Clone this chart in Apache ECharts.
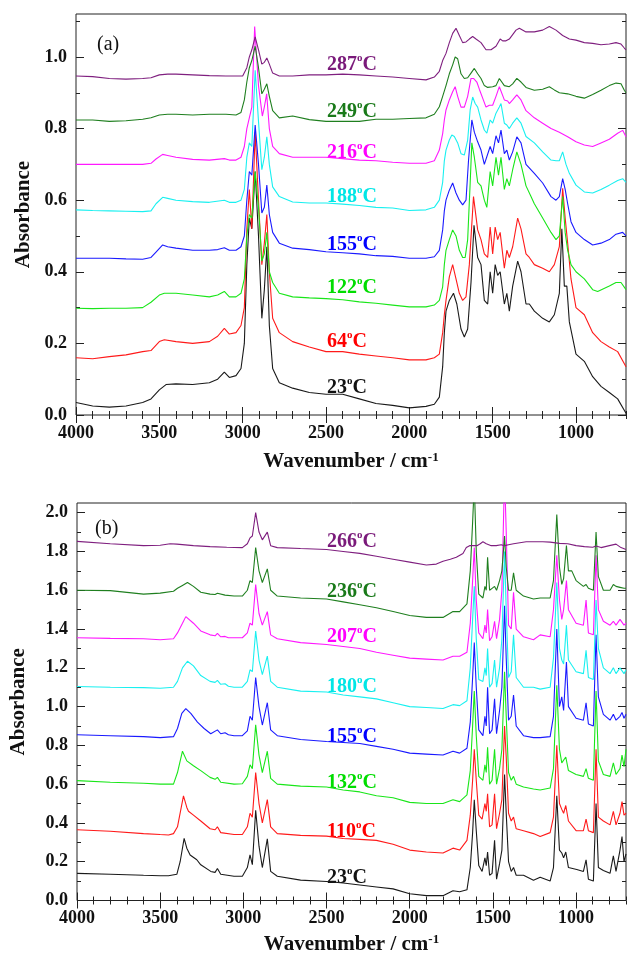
<!DOCTYPE html>
<html>
<head>
<meta charset="utf-8">
<script src="https://cdn.jsdelivr.net/npm/echarts@6/dist/echarts.min.js"></script>
<style>
  html, body { margin: 0; padding: 0; background: #fff; }
  #main { width: 627px; height: 956px; }
</style>
</head>
<body>
<div id="main"></div>
<script>
// ---- tick values ----
const xTicks = [1000, 1500, 2000, 2500, 3000, 3500, 4000];
const yTicksA = [0, 0.2, 0.4, 0.6, 0.8, 1.0];
const yTicksB = [0, 0.2, 0.4, 0.6, 0.8, 1.0, 1.2, 1.4, 1.6, 1.8, 2.0];

// ---- panel (a): [wavenumber, absorbance] ----
const a23 = [[4000,0.035],[3900,0.025],[3800,0.022],[3700,0.025],[3600,0.035],[3550,0.045],[3500,0.07],[3460,0.085],[3400,0.087],[3300,0.085],[3200,0.09],[3150,0.10],[3110,0.12],[3080,0.105],[3040,0.11],[3010,0.13],[2990,0.2],[2975,0.42],[2960,0.55],[2945,0.52],[2925,0.68],[2905,0.5],[2885,0.27],[2870,0.35],[2855,0.47],[2840,0.25],[2820,0.13],[2780,0.09],[2700,0.075],[2600,0.063],[2500,0.058],[2400,0.058],[2300,0.045],[2200,0.032],[2100,0.027],[2000,0.02],[1900,0.024],[1850,0.03],[1820,0.05],[1800,0.135],[1790,0.23],[1780,0.29],[1760,0.32],[1735,0.34],[1715,0.31],[1690,0.24],[1670,0.218],[1650,0.24],[1630,0.37],[1612,0.53],[1590,0.44],[1570,0.42],[1550,0.32],[1530,0.31],[1515,0.40],[1500,0.34],[1485,0.42],[1470,0.39],[1455,0.40],[1430,0.31],[1415,0.34],[1400,0.29],[1380,0.36],[1350,0.43],[1330,0.40],[1300,0.31],[1280,0.31],[1250,0.29],[1200,0.27],[1160,0.26],[1130,0.28],[1100,0.34],[1085,0.52],[1070,0.36],[1055,0.36],[1040,0.26],[1000,0.17],[950,0.15],[900,0.107],[850,0.08],[800,0.063],[750,0.045],[700,0.005]];
const a64 = [[4000,0.16],[3900,0.157],[3800,0.163],[3700,0.168],[3600,0.177],[3550,0.18],[3500,0.205],[3470,0.21],[3400,0.205],[3300,0.20],[3200,0.205],[3150,0.22],[3110,0.242],[3080,0.226],[3040,0.23],[3010,0.25],[2990,0.3],[2975,0.52],[2960,0.63],[2945,0.52],[2925,0.79],[2905,0.6],[2885,0.42],[2870,0.48],[2855,0.56],[2840,0.40],[2820,0.27],[2780,0.23],[2700,0.205],[2600,0.19],[2500,0.177],[2400,0.177],[2300,0.17],[2200,0.165],[2100,0.16],[2000,0.154],[1900,0.154],[1850,0.16],[1820,0.17],[1800,0.23],[1790,0.28],[1780,0.32],[1760,0.386],[1740,0.42],[1720,0.38],[1700,0.34],[1680,0.32],[1660,0.33],[1640,0.42],[1615,0.61],[1590,0.517],[1570,0.49],[1550,0.45],[1530,0.44],[1515,0.525],[1500,0.45],[1485,0.525],[1470,0.49],[1455,0.51],[1430,0.41],[1415,0.46],[1400,0.44],[1380,0.47],[1350,0.55],[1330,0.52],[1300,0.45],[1280,0.44],[1250,0.42],[1200,0.41],[1160,0.40],[1130,0.42],[1100,0.47],[1080,0.633],[1065,0.55],[1050,0.48],[1030,0.38],[1000,0.30],[950,0.28],[900,0.23],[850,0.205],[800,0.19],[750,0.177],[700,0.135]];
const a122 = [[4000,0.298],[3900,0.297],[3800,0.298],[3700,0.298],[3600,0.30],[3550,0.315],[3500,0.335],[3470,0.34],[3400,0.34],[3300,0.335],[3200,0.33],[3150,0.335],[3110,0.345],[3080,0.33],[3040,0.33],[3010,0.34],[2990,0.38],[2975,0.5],[2960,0.56],[2945,0.55],[2925,0.68],[2905,0.58],[2885,0.43],[2870,0.45],[2855,0.51],[2840,0.40],[2820,0.37],[2780,0.34],[2700,0.33],[2600,0.327],[2500,0.325],[2400,0.322],[2300,0.316],[2200,0.312],[2100,0.307],[2000,0.302],[1900,0.302],[1850,0.307],[1820,0.32],[1800,0.358],[1790,0.42],[1780,0.46],[1760,0.49],[1740,0.517],[1720,0.50],[1700,0.46],[1680,0.44],[1665,0.44],[1650,0.49],[1635,0.648],[1625,0.76],[1610,0.72],[1590,0.65],[1570,0.64],[1550,0.60],[1535,0.58],[1515,0.68],[1500,0.64],[1480,0.72],[1465,0.67],[1450,0.72],[1430,0.63],[1415,0.66],[1400,0.64],[1380,0.685],[1355,0.735],[1330,0.70],[1300,0.64],[1270,0.61],[1250,0.59],[1200,0.55],[1150,0.51],[1120,0.49],[1100,0.50],[1080,0.61],[1065,0.51],[1050,0.46],[1030,0.42],[1000,0.40],[950,0.38],[900,0.35],[870,0.345],[800,0.36],[760,0.37],[730,0.37],[700,0.35]];
const a155 = [[4000,0.438],[3900,0.438],[3800,0.438],[3700,0.436],[3600,0.435],[3550,0.44],[3520,0.455],[3480,0.475],[3450,0.47],[3400,0.466],[3300,0.46],[3200,0.46],[3150,0.462],[3110,0.467],[3080,0.46],[3040,0.46],[3010,0.47],[2990,0.50],[2975,0.6],[2960,0.68],[2945,0.67],[2925,0.81],[2905,0.70],[2885,0.564],[2870,0.58],[2855,0.642],[2840,0.56],[2820,0.51],[2780,0.48],[2700,0.466],[2600,0.462],[2500,0.456],[2400,0.453],[2300,0.45],[2200,0.445],[2100,0.443],[2000,0.438],[1900,0.438],[1850,0.442],[1820,0.46],[1800,0.517],[1790,0.57],[1780,0.60],[1760,0.628],[1740,0.648],[1720,0.62],[1700,0.60],[1680,0.587],[1660,0.60],[1645,0.71],[1625,0.824],[1610,0.79],[1590,0.763],[1570,0.74],[1550,0.70],[1540,0.695],[1515,0.75],[1500,0.73],[1480,0.78],[1465,0.76],[1450,0.796],[1430,0.73],[1415,0.74],[1400,0.712],[1380,0.735],[1355,0.777],[1330,0.76],[1300,0.70],[1250,0.675],[1200,0.648],[1150,0.61],[1120,0.60],[1100,0.61],[1080,0.66],[1065,0.63],[1050,0.59],[1030,0.54],[1000,0.51],[950,0.49],[900,0.475],[850,0.48],[800,0.49],[760,0.505],[720,0.51],[700,0.5]];
const a188 = [[4000,0.573],[3900,0.571],[3800,0.57],[3700,0.569],[3600,0.568],[3550,0.57],[3520,0.59],[3480,0.608],[3450,0.605],[3400,0.60],[3300,0.596],[3200,0.594],[3110,0.60],[3080,0.594],[3040,0.594],[3010,0.60],[2990,0.63],[2975,0.72],[2960,0.76],[2945,0.75],[2925,0.963],[2905,0.82],[2885,0.685],[2870,0.72],[2855,0.777],[2840,0.70],[2820,0.637],[2780,0.61],[2700,0.595],[2600,0.592],[2500,0.592],[2400,0.589],[2300,0.585],[2200,0.58],[2100,0.578],[2000,0.571],[1900,0.573],[1850,0.58],[1820,0.60],[1800,0.65],[1790,0.71],[1780,0.74],[1760,0.768],[1745,0.782],[1730,0.778],[1710,0.76],[1690,0.73],[1670,0.726],[1650,0.768],[1635,0.852],[1620,0.888],[1605,0.87],[1590,0.86],[1570,0.824],[1550,0.796],[1535,0.787],[1515,0.824],[1500,0.815],[1480,0.843],[1460,0.86],[1450,0.87],[1430,0.815],[1415,0.81],[1400,0.80],[1380,0.815],[1355,0.83],[1330,0.815],[1300,0.778],[1250,0.76],[1200,0.735],[1150,0.712],[1120,0.71],[1100,0.71],[1080,0.735],[1060,0.70],[1040,0.675],[1000,0.642],[950,0.623],[900,0.62],[850,0.63],[800,0.642],[750,0.655],[720,0.66],[700,0.65]];
const a216 = [[4000,0.70],[3900,0.70],[3800,0.70],[3700,0.70],[3600,0.70],[3550,0.703],[3520,0.715],[3480,0.728],[3450,0.725],[3400,0.72],[3300,0.714],[3200,0.712],[3110,0.716],[3080,0.712],[3040,0.712],[3010,0.72],[2990,0.75],[2975,0.8],[2960,0.83],[2945,0.86],[2928,1.085],[2905,0.92],[2882,0.835],[2870,0.86],[2856,0.897],[2840,0.80],[2820,0.75],[2780,0.73],[2700,0.72],[2600,0.72],[2500,0.72],[2400,0.716],[2300,0.712],[2200,0.71],[2100,0.706],[2000,0.703],[1900,0.703],[1850,0.71],[1820,0.74],[1800,0.786],[1790,0.824],[1780,0.852],[1760,0.88],[1740,0.903],[1725,0.917],[1710,0.89],[1690,0.86],[1670,0.86],[1650,0.89],[1630,0.94],[1615,0.94],[1595,0.93],[1580,0.91],[1560,0.885],[1540,0.86],[1520,0.865],[1500,0.865],[1480,0.89],[1460,0.917],[1450,0.92],[1430,0.88],[1410,0.877],[1400,0.87],[1380,0.88],[1355,0.894],[1330,0.88],[1300,0.85],[1250,0.83],[1200,0.815],[1150,0.80],[1100,0.79],[1050,0.777],[1000,0.763],[950,0.754],[900,0.75],[850,0.76],[800,0.77],[750,0.787],[720,0.795],[700,0.777]];
const a249 = [[4000,0.824],[3900,0.824],[3800,0.82],[3700,0.822],[3600,0.826],[3550,0.83],[3500,0.838],[3450,0.84],[3400,0.84],[3300,0.838],[3200,0.84],[3100,0.84],[3040,0.838],[3010,0.845],[2990,0.88],[2975,0.93],[2960,0.97],[2945,0.99],[2925,1.03],[2905,0.97],[2885,0.897],[2870,0.91],[2855,0.925],[2840,0.89],[2820,0.85],[2780,0.83],[2700,0.835],[2600,0.825],[2500,0.82],[2400,0.82],[2300,0.82],[2200,0.826],[2100,0.826],[2000,0.828],[1900,0.83],[1850,0.84],[1820,0.861],[1800,0.89],[1780,0.92],[1760,0.953],[1740,0.978],[1725,1.0],[1710,0.995],[1690,0.953],[1670,0.94],[1650,0.942],[1630,0.955],[1610,0.968],[1590,0.953],[1570,0.94],[1550,0.92],[1530,0.915],[1500,0.917],[1480,0.92],[1460,0.94],[1450,0.94],[1430,0.92],[1400,0.917],[1380,0.925],[1355,0.94],[1330,0.93],[1300,0.915],[1250,0.907],[1200,0.91],[1160,0.917],[1130,0.908],[1100,0.9],[1050,0.897],[1000,0.89],[950,0.885],[900,0.895],[850,0.907],[800,0.92],[760,0.927],[730,0.925],[710,0.907],[700,0.90]];
const a287 = [[4000,0.947],[3900,0.945],[3800,0.94],[3700,0.938],[3600,0.94],[3550,0.942],[3500,0.95],[3450,0.952],[3400,0.952],[3300,0.95],[3200,0.948],[3100,0.947],[3000,0.947],[2990,0.95],[2975,0.97],[2960,1.0],[2945,1.02],[2925,1.056],[2905,1.02],[2885,0.98],[2870,0.985],[2855,0.997],[2840,0.98],[2820,0.955],[2780,0.947],[2700,0.947],[2600,0.95],[2500,0.95],[2400,0.952],[2300,0.95],[2200,0.947],[2100,0.944],[2000,0.94],[1900,0.936],[1850,0.944],[1820,0.96],[1800,0.99],[1780,1.01],[1760,1.04],[1740,1.066],[1720,1.08],[1700,1.06],[1680,1.04],[1660,1.042],[1640,1.05],[1620,1.057],[1600,1.05],[1570,1.04],[1540,1.02],[1510,1.02],[1480,1.03],[1455,1.05],[1440,1.045],[1420,1.045],[1400,1.05],[1360,1.075],[1340,1.08],[1300,1.07],[1250,1.07],[1200,1.075],[1160,1.085],[1120,1.075],[1080,1.06],[1040,1.05],[1000,1.047],[950,1.04],[900,1.038],[850,1.034],[800,1.036],[760,1.04],[730,1.036],[710,1.025],[700,1.02]];

// ---- panel (b): [wavenumber, absorbance] ----
const b23 = [[4000,0.14],[3800,0.135],[3600,0.13],[3500,0.128],[3450,0.128],[3400,0.135],[3380,0.2],[3356,0.32],[3340,0.27],[3320,0.235],[3280,0.21],[3256,0.184],[3196,0.15],[3170,0.145],[3156,0.165],[3136,0.135],[3056,0.125],[3006,0.125],[2976,0.17],[2960,0.235],[2946,0.185],[2926,0.465],[2906,0.28],[2886,0.17],[2856,0.318],[2836,0.15],[2796,0.125],[2656,0.105],[2500,0.098],[2400,0.09],[2300,0.08],[2200,0.07],[2100,0.06],[2000,0.035],[1900,0.025],[1800,0.025],[1740,0.05],[1700,0.045],[1656,0.055],[1636,0.17],[1622,0.35],[1612,0.52],[1600,0.36],[1585,0.18],[1565,0.15],[1548,0.22],[1540,0.18],[1532,0.25],[1520,0.13],[1505,0.14],[1490,0.31],[1478,0.11],[1460,0.19],[1446,0.26],[1430,0.65],[1420,0.45],[1406,0.2],[1390,0.15],[1376,0.17],[1360,0.13],[1316,0.13],[1256,0.105],[1216,0.12],[1156,0.1],[1136,0.17],[1116,0.54],[1100,0.26],[1086,0.245],[1075,0.22],[1062,0.25],[1046,0.17],[996,0.16],[956,0.15],[940,0.21],[926,0.11],[896,0.1],[880,0.5],[866,0.17],[836,0.155],[796,0.14],[776,0.23],[760,0.15],[736,0.26],[724,0.33],[712,0.2],[700,0.24]];
const b110 = [[4000,0.365],[3800,0.357],[3600,0.345],[3500,0.34],[3450,0.338],[3420,0.345],[3396,0.38],[3360,0.54],[3340,0.48],[3330,0.46],[3300,0.44],[3256,0.41],[3200,0.37],[3170,0.365],[3156,0.38],[3136,0.35],[3056,0.34],[3006,0.34],[2976,0.38],[2960,0.45],[2946,0.43],[2926,0.66],[2906,0.5],[2886,0.40],[2856,0.52],[2836,0.38],[2796,0.345],[2656,0.336],[2500,0.332],[2400,0.32],[2300,0.315],[2200,0.31],[2100,0.29],[2000,0.26],[1900,0.25],[1800,0.245],[1740,0.27],[1700,0.26],[1656,0.31],[1636,0.44],[1622,0.62],[1612,0.78],[1600,0.62],[1585,0.44],[1565,0.42],[1548,0.5],[1540,0.46],[1532,0.55],[1520,0.38],[1505,0.39],[1490,0.55],[1478,0.37],[1460,0.45],[1446,0.52],[1430,0.9],[1420,0.74],[1406,0.45],[1390,0.41],[1376,0.43],[1360,0.37],[1316,0.36],[1256,0.345],[1216,0.33],[1156,0.35],[1136,0.43],[1116,0.80],[1100,0.5],[1086,0.47],[1075,0.45],[1062,0.49],[1046,0.41],[1000,0.36],[956,0.36],[940,0.42],[926,0.36],[896,0.35],[880,0.78],[866,0.43],[836,0.41],[796,0.39],[776,0.46],[760,0.39],[736,0.45],[724,0.51],[712,0.44],[700,0.45]];
const b132 = [[4000,0.618],[3800,0.61],[3600,0.605],[3500,0.6],[3420,0.6],[3396,0.66],[3366,0.77],[3340,0.72],[3300,0.695],[3256,0.67],[3200,0.635],[3170,0.625],[3156,0.635],[3136,0.61],[3056,0.6],[3006,0.602],[2976,0.64],[2960,0.70],[2946,0.68],[2926,0.906],[2906,0.75],[2886,0.66],[2856,0.77],[2836,0.63],[2796,0.6],[2656,0.59],[2500,0.585],[2400,0.57],[2300,0.56],[2200,0.54],[2100,0.53],[2000,0.506],[1900,0.5],[1800,0.5],[1740,0.52],[1700,0.51],[1656,0.545],[1636,0.67],[1622,0.9],[1612,1.08],[1600,0.85],[1585,0.64],[1560,0.62],[1548,0.7],[1540,0.66],[1532,0.79],[1520,0.6],[1505,0.62],[1490,0.78],[1478,0.6],[1460,0.68],[1446,0.78],[1430,1.18],[1420,0.95],[1406,0.66],[1390,0.62],[1376,0.64],[1360,0.6],[1316,0.585],[1256,0.575],[1216,0.57],[1156,0.58],[1136,0.68],[1116,1.11],[1100,0.78],[1086,0.71],[1075,0.7],[1062,0.74],[1046,0.67],[1000,0.65],[956,0.64],[940,0.68],[926,0.63],[896,0.62],[880,1.08],[866,0.72],[836,0.65],[796,0.64],[776,0.71],[760,0.65],[736,0.68],[724,0.75],[712,0.69],[700,0.78]];
const b155 = [[4000,0.855],[3800,0.85],[3600,0.845],[3500,0.84],[3420,0.845],[3396,0.887],[3370,0.965],[3346,0.99],[3316,0.965],[3276,0.92],[3236,0.887],[3196,0.86],[3156,0.88],[3136,0.86],[3110,0.865],[3090,0.855],[3056,0.85],[3006,0.85],[2976,0.875],[2960,0.95],[2946,0.93],[2926,1.15],[2906,1.0],[2886,0.905],[2856,1.02],[2836,0.88],[2796,0.85],[2656,0.83],[2500,0.82],[2400,0.815],[2300,0.81],[2200,0.795],[2100,0.78],[2000,0.76],[1900,0.755],[1800,0.75],[1740,0.77],[1700,0.76],[1656,0.785],[1636,0.92],[1622,1.15],[1612,1.33],[1600,1.1],[1585,0.88],[1560,0.85],[1548,0.95],[1540,0.9],[1532,1.1],[1520,0.86],[1505,0.88],[1490,1.04],[1478,0.86],[1460,0.98],[1446,1.1],[1430,1.52],[1420,1.25],[1406,0.93],[1390,0.95],[1376,1.06],[1360,0.9],[1316,0.85],[1256,0.84],[1216,0.84],[1156,0.845],[1136,0.95],[1116,1.40],[1100,1.0],[1086,1.05],[1075,0.98],[1058,1.23],[1046,1.0],[1000,0.94],[956,0.93],[940,1.02],[926,0.91],[896,0.9],[880,1.37],[866,1.05],[836,0.96],[796,0.93],[776,0.96],[760,0.93],[736,0.95],[724,0.97],[712,0.94],[700,0.96]];
const b180 = [[4000,1.104],[3800,1.1],[3600,1.098],[3500,1.095],[3420,1.1],[3396,1.13],[3366,1.2],[3336,1.234],[3300,1.21],[3256,1.16],[3200,1.13],[3170,1.125],[3156,1.135],[3136,1.115],[3110,1.118],[3090,1.105],[3056,1.1],[3006,1.1],[2976,1.13],[2960,1.19],[2946,1.18],[2926,1.39],[2906,1.24],[2886,1.165],[2856,1.26],[2836,1.13],[2796,1.1],[2656,1.08],[2500,1.075],[2400,1.06],[2300,1.05],[2200,1.04],[2100,1.02],[2000,1.0],[1900,0.995],[1800,0.99],[1740,1.01],[1700,1.005],[1656,1.03],[1636,1.2],[1622,1.45],[1612,1.62],[1600,1.35],[1585,1.14],[1560,1.13],[1548,1.2],[1540,1.16],[1532,1.3],[1520,1.1],[1505,1.12],[1490,1.24],[1478,1.1],[1460,1.2],[1446,1.35],[1430,1.8],[1420,1.5],[1406,1.15],[1390,1.18],[1376,1.37],[1360,1.15],[1316,1.1],[1256,1.1],[1216,1.09],[1156,1.1],[1136,1.25],[1116,1.64],[1100,1.3],[1086,1.24],[1075,1.22],[1058,1.42],[1046,1.24],[1000,1.18],[956,1.17],[940,1.29],[926,1.15],[896,1.14],[880,1.55],[866,1.3],[836,1.2],[796,1.17],[776,1.2],[760,1.17],[736,1.2],[724,1.19],[712,1.17],[700,1.19]];
const b207 = [[4000,1.355],[3800,1.352],[3600,1.35],[3500,1.345],[3420,1.35],[3396,1.38],[3366,1.43],[3346,1.464],[3300,1.43],[3256,1.39],[3200,1.37],[3170,1.365],[3156,1.378],[3136,1.36],[3110,1.362],[3090,1.355],[3056,1.355],[3006,1.355],[2976,1.38],[2960,1.43],[2946,1.42],[2926,1.63],[2906,1.48],[2886,1.42],[2856,1.49],[2836,1.37],[2796,1.35],[2656,1.33],[2500,1.32],[2400,1.31],[2300,1.3],[2200,1.28],[2100,1.265],[2000,1.25],[1900,1.245],[1800,1.24],[1740,1.26],[1700,1.26],[1656,1.28],[1636,1.43],[1622,1.65],[1612,1.82],[1600,1.55],[1585,1.38],[1560,1.35],[1548,1.42],[1540,1.38],[1532,1.5],[1520,1.34],[1505,1.36],[1490,1.44],[1478,1.35],[1460,1.45],[1446,1.6],[1430,2.2],[1420,1.9],[1406,1.42],[1390,1.4],[1376,1.59],[1360,1.4],[1316,1.36],[1256,1.345],[1216,1.37],[1156,1.36],[1136,1.5],[1116,1.78],[1100,1.55],[1086,1.45],[1075,1.5],[1058,1.65],[1046,1.5],[1000,1.43],[956,1.42],[940,1.55],[926,1.38],[896,1.37],[880,1.78],[866,1.5],[836,1.44],[796,1.42],[776,1.44],[760,1.42],[736,1.45],[724,1.44],[712,1.42],[700,1.43]];
const b236 = [[4000,1.6],[3800,1.598],[3600,1.58],[3500,1.585],[3420,1.595],[3396,1.61],[3366,1.625],[3336,1.64],[3300,1.62],[3256,1.59],[3200,1.58],[3170,1.578],[3156,1.585],[3110,1.575],[3056,1.57],[3006,1.57],[2976,1.6],[2960,1.65],[2946,1.64],[2926,1.82],[2906,1.7],[2886,1.64],[2856,1.71],[2836,1.6],[2796,1.57],[2656,1.56],[2500,1.555],[2400,1.54],[2300,1.525],[2200,1.51],[2100,1.49],[2000,1.47],[1900,1.46],[1800,1.46],[1740,1.49],[1700,1.49],[1656,1.53],[1636,1.7],[1622,1.95],[1612,2.15],[1600,1.8],[1585,1.58],[1560,1.56],[1548,1.62],[1540,1.6],[1532,1.77],[1520,1.6],[1505,1.61],[1490,1.62],[1478,1.6],[1460,1.65],[1446,1.7],[1430,1.88],[1420,1.72],[1406,1.6],[1390,1.6],[1376,1.69],[1360,1.6],[1316,1.57],[1256,1.555],[1216,1.56],[1156,1.56],[1136,1.65],[1116,1.99],[1100,1.72],[1086,1.63],[1075,1.66],[1058,1.83],[1046,1.7],[1026,1.7],[1000,1.65],[956,1.62],[940,1.63],[926,1.61],[896,1.6],[880,1.9],[866,1.67],[836,1.6],[796,1.6],[776,1.63],[760,1.62],[736,1.615],[724,1.62],[712,1.61],[700,1.61]];
const b266 = [[4000,1.852],[3800,1.84],[3600,1.83],[3500,1.832],[3440,1.84],[3400,1.838],[3300,1.83],[3200,1.825],[3100,1.822],[3006,1.82],[2976,1.84],[2960,1.87],[2946,1.88],[2926,2.0],[2906,1.9],[2886,1.86],[2856,1.9],[2836,1.83],[2796,1.82],[2656,1.815],[2500,1.81],[2400,1.8],[2300,1.79],[2200,1.775],[2100,1.76],[2000,1.745],[1900,1.73],[1840,1.735],[1800,1.75],[1756,1.76],[1720,1.77],[1680,1.79],[1660,1.82],[1640,1.83],[1620,1.83],[1596,1.83],[1576,1.84],[1560,1.85],[1540,1.84],[1510,1.83],[1480,1.83],[1450,1.835],[1430,1.83],[1406,1.835],[1376,1.84],[1300,1.85],[1256,1.85],[1200,1.85],[1156,1.848],[1100,1.842],[1050,1.84],[1000,1.83],[950,1.825],[900,1.822],[880,1.828],[850,1.82],[800,1.83],[760,1.838],[730,1.82],[700,1.81]];

// ---- temperatures and colours ----
const tempsA = ['23', '64', '122', '155', '188', '216', '249', '287'];
const tempsB = ['23', '110', '132', '155', '180', '207', '236', '266'];
const dataA = [a23, a64, a122, a155, a188, a216, a249, a287];
const dataB = [b23, b110, b132, b155, b180, b207, b236, b266];
const lineColors = ['#1a1a1a', '#ff1a1a', '#19e619', '#1a1aff', '#19f0f0', '#ff19ff', '#1f7f1f', '#7f1f7f'];
const textColors = ['#111111', '#ff0000', '#00dd00', '#0000ff', '#00e6e6', '#ff00ff', '#1a7a1a', '#7a1a7a'];

// label layout (pixel top of each temperature label)
const labelTopA = [376, 330, 276, 233, 185, 141, 100, 53];
const labelTopB = [866, 820, 771, 725, 675, 625, 580, 530];

const FONT = 'Liberation Serif';
const INK = '#111';

// minor ticks every 100 / 0.1 (skipping the majors)
const xMinor = [];
for (let v = 700; v <= 4000; v += 100) if (v % 500 !== 0) xMinor.push(v);
const yMinorA = [0.1, 0.3, 0.5, 0.7, 0.9, 1.1];
const yMinorB = [0.1, 0.3, 0.5, 0.7, 0.9, 1.1, 1.3, 1.5, 1.7, 1.9];

const tickStyle = { color: '#222', width: 1 };

function xAxesFor(grid, nameGap) {
  const base = {
    type: 'value', gridIndex: grid, min: 700, max: 4000, inverse: true,
    splitLine: { show: false }, axisLine: { show: false }
  };
  return [
    Object.assign({}, base, {
      position: 'bottom',
      axisTick: { inside: true, length: 8, customValues: xTicks, lineStyle: tickStyle },
      axisLabel: {
        customValues: xTicks, margin: 9, fontFamily: FONT, fontSize: 18, fontWeight: 'bold', color: INK,
        formatter: v => String(v)
      },
      name: 'Wavenumber / cm{sup|-1}',
      nameLocation: 'middle',
      nameGap: nameGap,
      nameTextStyle: {
        fontFamily: FONT, fontSize: 21, fontWeight: 'bold', color: INK,
        rich: { sup: { fontFamily: FONT, fontSize: 13, fontWeight: 'bold', color: INK, padding: [0, 0, 9, 0] } }
      }
    }),
    Object.assign({}, base, {
      position: 'bottom',
      axisTick: { inside: true, length: 4, customValues: xMinor, lineStyle: tickStyle },
      axisLabel: { show: false }
    }),
    Object.assign({}, base, {
      position: 'top',
      axisTick: { inside: true, length: 8, customValues: xTicks, lineStyle: tickStyle },
      axisLabel: { show: false }
    }),
    Object.assign({}, base, {
      position: 'top',
      axisTick: { inside: true, length: 4, customValues: xMinor, lineStyle: tickStyle },
      axisLabel: { show: false }
    })
  ];
}

function yAxesFor(grid, max, ticks, minor, nameGap) {
  const base = {
    type: 'value', gridIndex: grid, min: 0, max: max,
    splitLine: { show: false }, axisLine: { show: false }
  };
  return [
    Object.assign({}, base, {
      position: 'left',
      axisTick: { inside: true, length: 8, customValues: ticks, lineStyle: tickStyle },
      axisLabel: {
        customValues: ticks, margin: 9, fontFamily: FONT, fontSize: 18, fontWeight: 'bold', color: INK,
        formatter: v => v.toFixed(1)
      },
      name: 'Absorbance',
      nameLocation: 'middle',
      nameGap: nameGap,
      nameTextStyle: { fontFamily: FONT, fontSize: 21, fontWeight: 'bold', color: INK }
    }),
    Object.assign({}, base, {
      position: 'left',
      axisTick: { inside: true, length: 4, customValues: minor, lineStyle: tickStyle },
      axisLabel: { show: false }
    }),
    Object.assign({}, base, {
      position: 'right',
      axisTick: { inside: true, length: 8, customValues: ticks, lineStyle: tickStyle },
      axisLabel: { show: false }
    }),
    Object.assign({}, base, {
      position: 'right',
      axisTick: { inside: true, length: 4, customValues: minor, lineStyle: tickStyle },
      axisLabel: { show: false }
    })
  ];
}

const series = [];
dataA.forEach((d, i) => {
  series.push({
    type: 'line', name: tempsA[i] + '°C (a)', data: d, xAxisIndex: 0, yAxisIndex: 0,
    showSymbol: false, symbol: 'none', silent: true,
    lineStyle: { color: lineColors[i], width: 1.1 }
  });
});
dataB.forEach((d, i) => {
  series.push({
    type: 'line', name: tempsB[i] + '°C (b)', data: d, xAxisIndex: 4, yAxisIndex: 4,
    showSymbol: false, symbol: 'none', silent: true,
    lineStyle: { color: lineColors[i], width: 1.1 }
  });
});

// temperature label: number, small raised "o", then "C"
function tempLabel(t, top, color) {
  const main = { fill: color, fontFamily: FONT, fontWeight: 'bold', fontSize: 20, lineHeight: 24, verticalAlign: 'middle' };
  return {
    type: 'text', left: 327, top: top, silent: true,
    style: {
      text: '{n|' + t + '}{o|o}{n|C}',
      rich: {
        n: main,
        o: { fill: color, fontFamily: FONT, fontWeight: 'bold', fontSize: 11, lineHeight: 8, verticalAlign: 'top' }
      }
    }
  };
}

const graphics = [];
tempsA.forEach((t, i) => graphics.push(tempLabel(t, labelTopA[i], textColors[i])));
tempsB.forEach((t, i) => graphics.push(tempLabel(t, labelTopB[i], textColors[i])));
graphics.push({ type: 'text', left: 97, top: 35, silent: true, style: { text: '(a)', fill: INK, font: '20px "Liberation Serif"' } });
graphics.push({ type: 'text', left: 95, top: 519, silent: true, style: { text: '(b)', fill: INK, font: '20px "Liberation Serif"' } });

const chart = echarts.init(document.getElementById('main'), null, { renderer: 'canvas' });
chart.setOption({
  animation: false,
  backgroundColor: '#fff',
  grid: [
    { left: 76, top: 14, width: 550, height: 401, show: true, borderColor: '#222', borderWidth: 1, backgroundColor: 'transparent' },
    { left: 76, top: 503, width: 550, height: 401, show: true, borderColor: '#222', borderWidth: 1, backgroundColor: 'transparent' }
  ],
  xAxis: xAxesFor(0, 36).concat(xAxesFor(1, 33)),
  yAxis: yAxesFor(0, 1.12, yTicksA, yMinorA, 42).concat(yAxesFor(1, 2.05, yTicksB, yMinorB, 48)),
  series: series,
  graphic: graphics
});
</script>
</body>
</html>
